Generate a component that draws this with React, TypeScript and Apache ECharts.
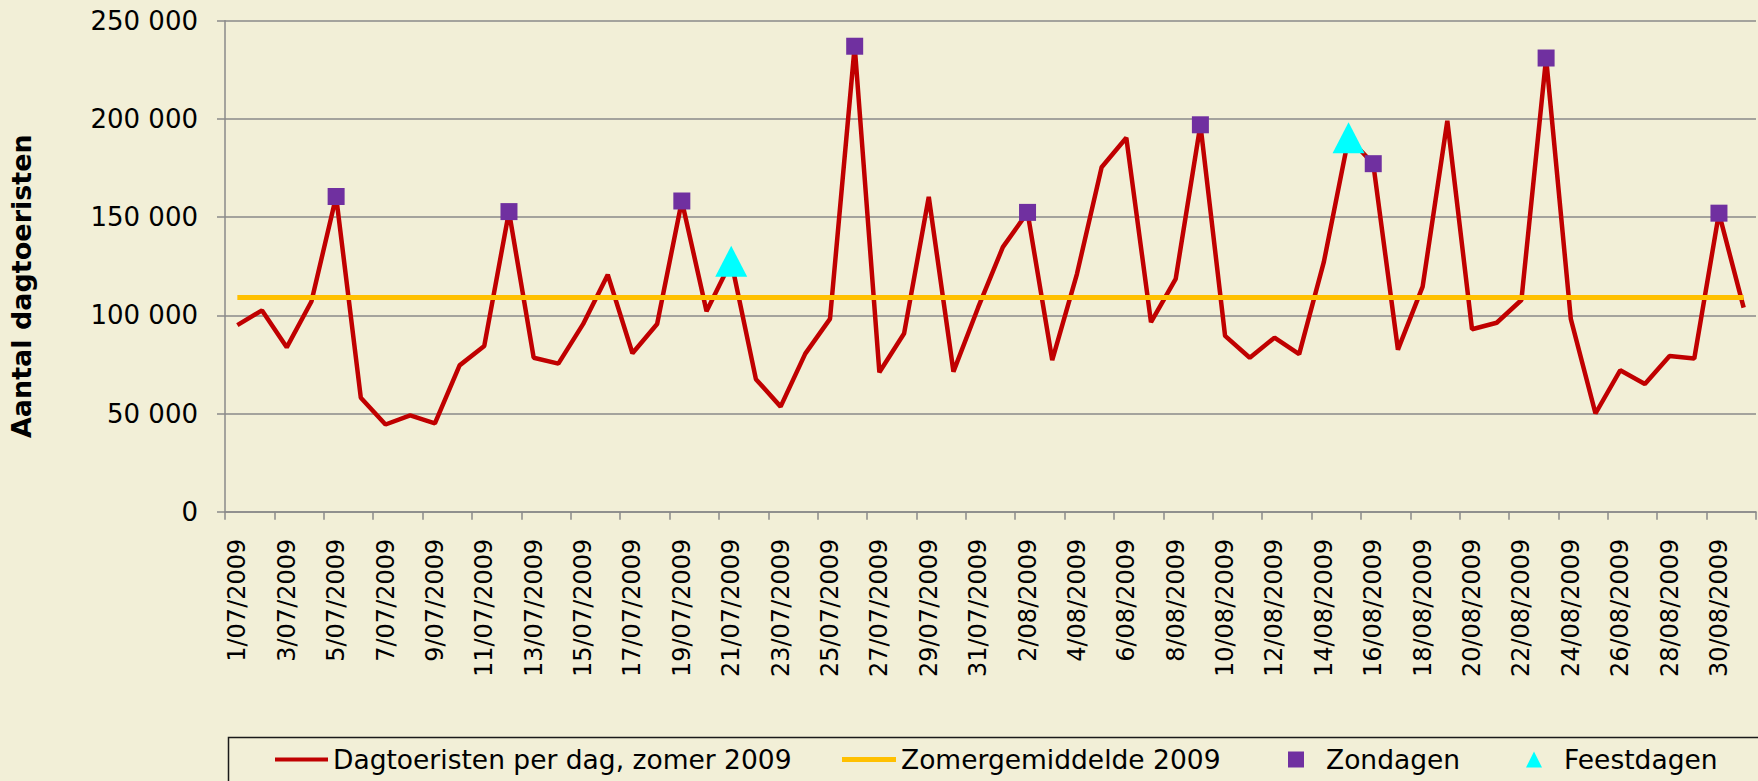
import React, { useEffect, useRef } from "react";
import * as echarts from "echarts";

const categories: string[] = [
  "1/07/2009", "2/07/2009", "3/07/2009", "4/07/2009", "5/07/2009", "6/07/2009", "7/07/2009", "8/07/2009",
  "9/07/2009", "10/07/2009", "11/07/2009", "12/07/2009", "13/07/2009", "14/07/2009", "15/07/2009", "16/07/2009",
  "17/07/2009", "18/07/2009", "19/07/2009", "20/07/2009", "21/07/2009", "22/07/2009", "23/07/2009", "24/07/2009",
  "25/07/2009", "26/07/2009", "27/07/2009", "28/07/2009", "29/07/2009", "30/07/2009", "31/07/2009",
  "1/08/2009", "2/08/2009", "3/08/2009", "4/08/2009", "5/08/2009", "6/08/2009", "7/08/2009", "8/08/2009",
  "9/08/2009", "10/08/2009", "11/08/2009", "12/08/2009", "13/08/2009", "14/08/2009", "15/08/2009", "16/08/2009",
  "17/08/2009", "18/08/2009", "19/08/2009", "20/08/2009", "21/08/2009", "22/08/2009", "23/08/2009", "24/08/2009",
  "25/08/2009", "26/08/2009", "27/08/2009", "28/08/2009", "29/08/2009", "30/08/2009", "31/08/2009",
];

const dayTourists: number[] = [
  95000, 102500, 83700, 107000, 160500, 58000, 44400, 49000,
  45000, 74500, 84400, 152800, 78400, 75400, 95500, 120700,
  80700, 95600, 158200, 102100, 127500, 67500, 53500, 80500,
  98200, 237000, 71000, 90700, 160300, 71300, 104000,
  134700, 152400, 77200, 121000, 175400, 190400, 96500, 118600,
  197000, 89500, 78400, 88600, 80200, 127200, 190400, 177200,
  82500, 114600, 199000, 92900, 96200, 107800, 231000, 98200,
  50000, 72000, 65000, 79300, 78000, 152000, 103900,
];

const summerAverage = 109000;

const sundays: string[] = [
  "5/07/2009", "12/07/2009", "19/07/2009", "26/07/2009", "2/08/2009",
  "9/08/2009", "16/08/2009", "23/08/2009", "30/08/2009",
];

const holidays: string[] = ["21/07/2009", "15/08/2009"];

const yTicks: number[] = [0, 50000, 100000, 150000, 200000, 250000];

const NAME_LINE = "Dagtoeristen per dag, zomer 2009";
const NAME_AVG = "Zomergemiddelde 2009";
const NAME_SUN = "Zondagen";
const NAME_HOL = "Feestdagen";

const FONT = "DejaVu Sans";
const GRID_COLOR = "#8a8a8a";

export default function App() {
  const ref = useRef<HTMLDivElement>(null);

  useEffect(() => {
    if (!ref.current) return;
    const chart = echarts.init(ref.current, undefined, { renderer: "svg" });

    const sundayData = sundays.map((d) => [d, dayTourists[categories.indexOf(d)]]);
    const holidayData = holidays.map((d) => [d, dayTourists[categories.indexOf(d)]]);
    const avgData = categories.map(() => summerAverage);

    const legendBase = {
      top: 746,
      padding: 0,
      orient: "horizontal" as const,
      selectedMode: false,
      textStyle: { fontFamily: FONT, fontSize: 26.5, color: "#000" },
    };

    chart.setOption({
      animation: false,
      backgroundColor: "#F2EFD7",
      textStyle: { fontFamily: FONT },
      grid: { left: 225, right: 2, top: 20.7, bottom: 269.3, containLabel: false },
      xAxis: {
        type: "category",
        data: categories,
        boundaryGap: true,
        axisLine: { show: true, lineStyle: { color: GRID_COLOR, width: 1.5 } },
        axisTick: { show: true, interval: 1, length: 8, lineStyle: { color: GRID_COLOR, width: 1.5 } },
        axisLabel: {
          interval: 1,
          rotate: 90,
          margin: 27,
          fontFamily: FONT,
          fontSize: 24,
          color: "#000",
        },
        splitLine: { show: false },
      },
      yAxis: {
        type: "value",
        min: yTicks[0],
        max: yTicks[yTicks.length - 1],
        interval: yTicks[1] - yTicks[0],
        name: "Aantal dagtoeristen",
        nameLocation: "middle",
        nameRotate: 90,
        nameGap: 190,
        nameTextStyle: {
          fontFamily: FONT,
          fontSize: 27,
          fontWeight: "bold",
          color: "#000",
          padding: [0, 40, 0, 0],
        },
        axisLine: { show: true, lineStyle: { color: GRID_COLOR, width: 1.5 } },
        axisTick: { show: true, length: 8, lineStyle: { color: GRID_COLOR, width: 1.5 } },
        axisLabel: {
          margin: 27,
          fontFamily: FONT,
          fontSize: 26,
          color: "#000",
          formatter: (v: number) => String(v).replace(/\B(?=(\d{3})+(?!\d))/g, " "),
        },
        splitLine: { show: true, lineStyle: { color: GRID_COLOR, width: 1.5 } },
      },
      legend: [
        {
          ...legendBase,
          left: 275,
          data: [{ name: NAME_LINE, icon: "rect" }],
          itemWidth: 53,
          itemHeight: 4,
        },
        {
          ...legendBase,
          left: 842,
          data: [{ name: NAME_AVG, icon: "rect" }],
          itemWidth: 54,
          itemHeight: 5,
        },
        {
          ...legendBase,
          left: 1288,
          data: [{ name: NAME_SUN, icon: "rect" }],
          itemWidth: 16,
          itemHeight: 16,
          textStyle: { ...legendBase.textStyle, padding: [0, 0, 0, 17] },
        },
        {
          ...legendBase,
          left: 1526,
          data: [{ name: NAME_HOL, icon: "triangle" }],
          itemWidth: 16,
          itemHeight: 16,
          textStyle: { ...legendBase.textStyle, padding: [0, 0, 0, 17] },
        },
      ],
      graphic: [
        {
          type: "rect",
          left: 226,
          top: 735,
          shape: { width: 1531, height: 80 },
          style: { fill: "none", stroke: "#1a1a1a", lineWidth: 1.5 },
          silent: true,
        },
      ],
      series: [
        {
          name: NAME_LINE,
          type: "line",
          data: dayTourists,
          symbol: "none",
          lineStyle: { color: "#C00000", width: 4.5 },
          itemStyle: { color: "#C00000" },
          z: 2,
        },
        {
          name: NAME_AVG,
          type: "line",
          data: avgData,
          symbol: "none",
          lineStyle: { color: "#FFC000", width: 5 },
          itemStyle: { color: "#FFC000" },
          z: 3,
        },
        {
          name: NAME_SUN,
          type: "scatter",
          data: sundayData,
          symbol: "rect",
          symbolSize: 17,
          itemStyle: { color: "#7030A0", opacity: 1 },
          z: 4,
        },
        {
          name: NAME_HOL,
          type: "scatter",
          data: holidayData,
          symbol: "triangle",
          symbolSize: [32, 31],
          itemStyle: { color: "#00FFFF", opacity: 1 },
          z: 5,
        },
      ],
    });

    return () => chart.dispose();
  }, []);

  return (
    <div
      ref={ref}
      style={{ position: "fixed", left: 0, top: 0, width: 1758, height: 781 }}
    />
  );
}
